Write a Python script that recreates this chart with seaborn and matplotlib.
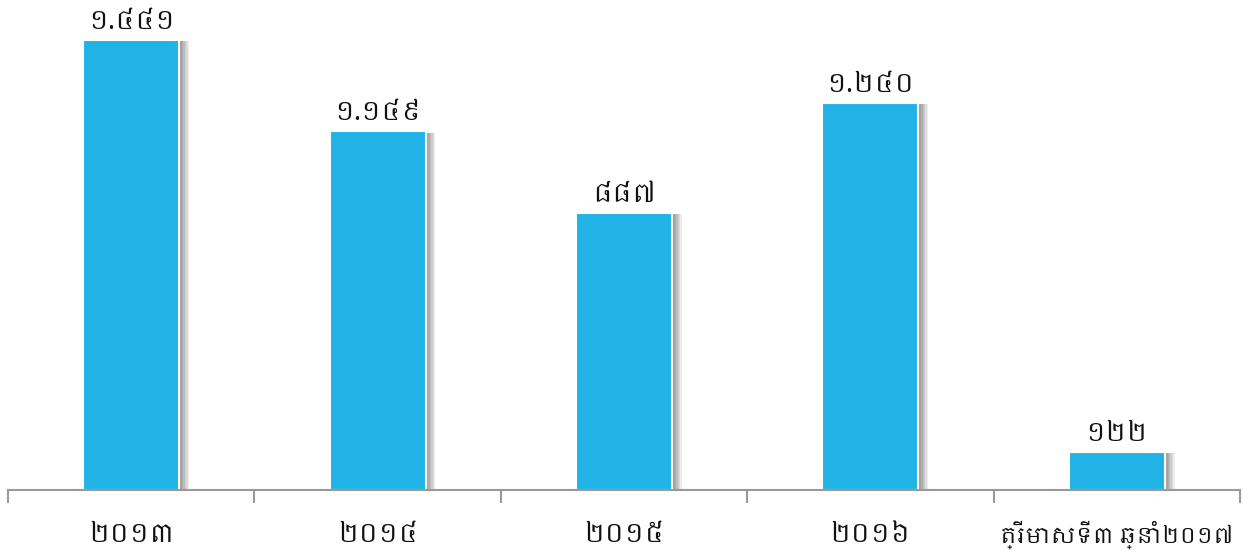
import pandas as pd
import matplotlib
matplotlib.use("Agg")
import matplotlib.pyplot as plt
import matplotlib.patheffects as pe
from matplotlib import font_manager
import seaborn as sns

# data
periods = ["២០១៣", "២០១៤", "២០១៥", "២០១៦", "ត្រីមាសទី៣ ឆ្នាំ២០១៧"]
counts = [1441, 1149, 887, 1240, 122]
count_labels = ["១.៤៤១", "១.១៤៩", "៨៨៧", "១.២៤០", "១២២"]

sns.set_theme(style="white")

# look for any Khmer-capable font
khmer = [f.name for f in font_manager.fontManager.ttflist if "khmer" in f.name.lower()]
families = ([khmer[0]] if khmer else []) + ["Noto Sans", "DejaVu Sans"]
plt.rcParams["font.family"] = families

df = pd.DataFrame({"period": periods, "count": counts})

fig = plt.figure(figsize=(12.44, 5.5), dpi=100)
ax = fig.add_axes([8 / 1244, 60 / 550, 1232 / 1244, 490 / 550])

sns.barplot(data=df, x="period", y="count", color="#21B3E6", saturation=1,
            width=0.39, edgecolor="white", linewidth=1.5, ax=ax)

# soft drop shadow on the right side
shadow = [pe.SimplePatchShadow(offset=(d, -1), shadow_rgbFace="#000000", alpha=0.07)
          for d in (7, 6, 5, 4, 3, 2)]
for bar in ax.patches:
    bar.set_path_effects(shadow + [pe.Normal()])

for i, (v, lab) in enumerate(zip(counts, count_labels)):
    ax.text(i, v + 12, lab, ha="center", va="bottom", fontsize=19, color="#111111")

ax.set_xlim(-0.5, len(periods) - 0.5)
ax.set_ylim(0, 1441 * 490 / 450)
ax.set_xlabel("")
ax.set_ylabel("")
ax.set_yticks([])
ax.set_xticks(range(len(periods)))
ax.set_xticklabels(periods, fontsize=19, color="#111111")
ax.tick_params(axis="x", length=0, pad=22)
# the long label needs to fit inside the figure
ax.get_xticklabels()[-1].set_fontsize(16)

# category boundary ticks
ax.set_xticks([i - 0.5 for i in range(len(periods) + 1)], minor=True)
ax.tick_params(axis="x", which="minor", length=9, width=1.5, color="#999999", bottom=True)

for s in ["top", "right", "left"]:
    ax.spines[s].set_visible(False)
ax.spines["bottom"].set_color("#999999")
ax.spines["bottom"].set_linewidth(1.5)

fig.savefig("out.png", dpi=100, facecolor="white")
